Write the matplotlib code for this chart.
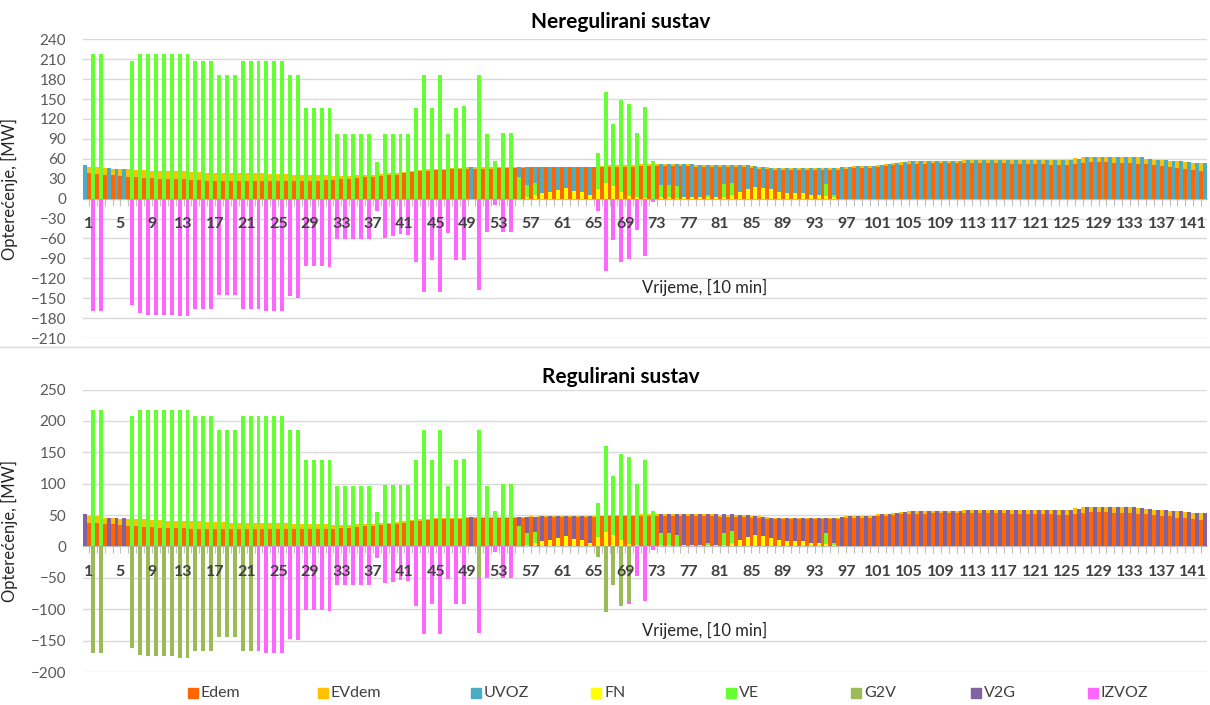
import matplotlib
matplotlib.use("Agg")
import matplotlib.pyplot as plt
import numpy as np
from matplotlib.patches import Rectangle
from matplotlib.lines import Line2D

plt.rcParams['font.family'] = ['Lato', 'DejaVu Sans']

# potrosnja po intervalu t = 1..142
edem = [38, 37, 36, 35, 34, 33, 32, 31, 31, 30,
        30, 29, 29, 28, 28, 27, 27, 27, 27, 27,
        27, 27, 27, 27, 27, 27, 27, 27, 27, 27,
        28, 28, 29, 30, 31, 32, 33, 34, 35, 36,
        38, 40, 41, 42, 43, 43, 44, 44, 45, 45,
        45, 45, 46, 46, 46, 46, 47, 47, 47, 47,
        47, 47, 47, 47, 47, 48, 48, 48, 48, 48,
        49, 49, 49, 49, 49, 49, 49, 48, 48, 48,
        47, 47, 47, 47, 46, 45, 44, 43, 43, 43,
        43, 43, 43, 43, 43, 43, 45, 46, 46, 46,
        48, 49, 50, 51, 52, 52, 52, 53, 53, 53,
        53, 53, 53, 53, 53, 53, 53, 52, 52, 52,
        52, 52, 51, 50, 50, 52, 54, 55, 55, 55,
        54, 53, 53, 52, 52, 50, 49, 48, 46, 45,
        43, 42]
evdem = [10, 11, 10, 10, 10, 11, 11, 12, 11, 12,
         11, 12, 12, 12, 12, 12, 12, 12, 11, 11,
         11, 11, 11, 10, 10, 10, 9, 9, 8, 8,
         7, 6, 5, 4, 4, 4, 3, 3, 3, 3,
         2, 2, 2, 2, 2, 2, 2, 2, 2, 2,
         2, 2, 1, 1, 1, 1, 1, 1, 1, 1,
         1, 1, 1, 1, 1, 1, 2, 2, 2, 2,
         3, 3, 3, 3, 3, 3, 3, 3, 3, 3,
         3, 3, 3, 3, 3, 3, 3, 3, 3, 3,
         3, 3, 3, 3, 3, 3, 3, 3, 3, 3,
         3, 3, 3, 4, 4, 4, 4, 4, 4, 4,
         4, 5, 5, 5, 5, 5, 5, 6, 6, 6,
         6, 6, 7, 8, 8, 9, 9, 8, 8, 8,
         9, 10, 10, 10, 8, 8, 9, 9, 10, 10,
         11, 12]

# proizvodnja / razmjena, s = 0..142 (stupci izmedu stupaca potrosnje)
fn = [0, 0, 0, 0, 0, 0, 0, 0, 0, 0,
      0, 0, 0, 0, 0, 0, 0, 0, 0, 0,
      0, 0, 0, 0, 0, 0, 0, 0, 0, 0,
      0, 0, 0, 0, 0, 0, 0, 0, 0, 0,
      0, 0, 0, 0, 0, 0, 0, 0, 0, 0,
      0, 0, 0, 0, 0, 0, 2, 5, 8, 10,
      13, 16, 12, 10, 6, 15, 23, 19, 10, 4,
      2, 1, 0, 2, 2, 1, 2, 2, 3, 2,
      3, 3, 6, 10, 15, 18, 16, 14, 10, 8,
      8, 8, 6, 5, 4, 2, 0, 0, 0, 0,
      0, 0, 0, 0, 0, 0, 0, 0, 0, 0,
      0, 0, 0, 0, 0, 0, 0, 0, 0, 0,
      0, 0, 0, 0, 0, 0, 0, 0, 0, 0,
      0, 0, 0, 0, 0, 0, 0, 0, 0, 0,
      0, 0, 0]
ve = [0, 218, 218, 0, 0, 0, 208, 218, 218, 218,
      218, 218, 218, 218, 208, 208, 208, 186, 186, 186,
      208, 208, 208, 208, 208, 208, 186, 186, 137, 137,
      137, 137, 97, 97, 97, 97, 97, 55, 98, 98,
      98, 98, 137, 186, 137, 186, 97, 137, 140, 0,
      186, 97, 57, 99, 99, 33, 19, 18, 0, 0,
      0, 0, 0, 0, 0, 54, 137, 94, 138, 138,
      97, 137, 56, 19, 19, 18, 0, 0, 0, 3,
      0, 19, 18, 0, 0, 0, 0, 0, 0, 0,
      0, 0, 0, 0, 18, 3, 0, 0, 0, 0,
      0, 0, 0, 0, 0, 0, 0, 0, 0, 0,
      0, 0, 0, 0, 0, 0, 0, 0, 0, 0,
      0, 0, 0, 0, 0, 0, 0, 0, 0, 0,
      0, 0, 0, 0, 0, 0, 0, 0, 0, 0,
      0, 0, 0]
uvoz = [51, 0, 0, 46, 45, 45, 0, 0, 0, 0,
        0, 0, 0, 0, 0, 0, 0, 0, 0, 0,
        0, 0, 0, 0, 0, 0, 0, 0, 0, 0,
        0, 0, 0, 0, 0, 0, 0, 0, 0, 0,
        0, 0, 0, 0, 0, 0, 0, 0, 0, 47,
        0, 0, 0, 0, 0, 14, 26, 24, 40, 38,
        35, 32, 36, 38, 42, 0, 0, 0, 0, 0,
        0, 0, 0, 31, 31, 33, 50, 50, 48, 46,
        48, 29, 27, 40, 35, 31, 31, 32, 36, 38,
        38, 38, 40, 41, 24, 41, 47, 48, 49, 49,
        49, 51, 52, 54, 55, 56, 56, 56, 57, 57,
        57, 57, 58, 58, 58, 58, 58, 58, 58, 58,
        58, 58, 58, 58, 58, 58, 60, 63, 63, 63,
        63, 63, 63, 63, 62, 60, 58, 58, 57, 56,
        55, 54, 54]
izvoz_nereg = [0, -169, -169, 0, 0, 0, -161, -173, -175, -175,
               -175, -175, -177, -177, -167, -167, -167, -145, -145, -145,
               -167, -167, -167, -169, -169, -169, -147, -149, -101, -101,
               -101, -103, -61, -61, -61, -61, -61, -19, -59, -56,
               -54, -55, -95, -140, -92, -140, -52, -92, -92, 0,
               -138, -51, -9, -51, -51, 0, 0, 0, 0, 0,
               0, 0, 0, 0, 0, -19, -109, -63, -96, -91,
               -47, -87, -5, 0, 0, 0, 0, 0, 0, 0,
               0, 0, 0, 0, 0, 0, 0, 0, 0, 0,
               0, 0, 0, 0, 0, 0, 0, 0, 0, 0,
               0, 0, 0, 0, 0, 0, 0, 0, 0, 0,
               0, 0, 0, 0, 0, 0, 0, 0, 0, 0,
               0, 0, 0, 0, 0, 0, 0, 0, 0, 0,
               0, 0, 0, 0, 0, 0, 0, 0, 0, 0,
               0, 0, 0]

# regulirani sustav: V2G umjesto uvoza, G2V umjesto dijela izvoza
v2g = list(uvoz)
g2v = [0, -169, -169, 0, 0, 0, -161, -173, -175, -175,
       -175, -175, -177, -177, -167, -167, -167, -145, -145, -145,
       -167, -167, 0, 0, 0, 0, 0, 0, 0, 0,
       0, 0, 0, 0, 0, 0, 0, 0, 0, 0,
       0, 0, 0, 0, 0, 0, 0, 0, 0, 0,
       -48, 0, 0, 0, 0, 0, 0, 0, 0, 0,
       0, 0, 0, 0, 0, -17, -105, -61, -95, -87,
       0, 0, 0, 0, 0, 0, 0, 0, 0, 0,
       0, 0, 0, 0, 0, 0, 0, 0, 0, 0,
       0, 0, 0, 0, 0, 0, 0, 0, 0, 0,
       0, 0, 0, 0, 0, 0, 0, 0, 0, 0,
       0, 0, 0, 0, 0, 0, 0, 0, 0, 0,
       0, 0, 0, 0, 0, 0, 0, 0, 0, 0,
       0, 0, 0, 0, 0, 0, 0, 0, 0, 0,
       0, 0, 0]
izvoz_reg = [0, 0, 0, 0, 0, 0, 0, 0, 0, 0,
             0, 0, 0, 0, 0, 0, 0, 0, 0, 0,
             0, 0, -167, -169, -169, -169, -147, -149, -101, -101,
             -101, -103, -61, -61, -61, -61, -61, -19, -59, -56,
             -54, -55, -95, -140, -92, -140, -52, -92, -92, 0,
             -90, -51, -9, -51, -51, 0, 0, 0, 0, 0,
             0, 0, 0, 0, 0, 0, 0, 0, 0, -4,
             -47, -87, -5, 0, 0, 0, 0, 0, 0, 0,
             0, 0, 0, 0, 0, 0, 0, 0, 0, 0,
             0, 0, 0, 0, 0, 0, 0, 0, 0, 0,
             0, 0, 0, 0, 0, 0, 0, 0, 0, 0,
             0, 0, 0, 0, 0, 0, 0, 0, 0, 0,
             0, 0, 0, 0, 0, 0, 0, 0, 0, 0,
             0, 0, 0, 0, 0, 0, 0, 0, 0, 0,
             0, 0, 0]

legend_names = ['Edem', 'EVdem', 'UVOZ', 'FN', 'VE', 'G2V', 'V2G', 'IZVOZ']
colors = {'Edem': '#FF6600', 'EVdem': '#FFC000', 'UVOZ': '#4BACC6', 'FN': '#FFFF00',
          'VE': '#66FF33', 'G2V': '#9BBB59', 'V2G': '#8064A2', 'IZVOZ': '#FF66FF'}

W, H = 1210, 705
fig = plt.figure(figsize=(W / 100, H / 100), dpi=100)


def px_axes(x0, y0, x1, y1):
    return fig.add_axes([x0 / W, 1 - y1 / H, (x1 - x0) / W, (y1 - y0) / H])


def draw_panel(ax, imp, imp_name, g2v_vals, izvoz_vals, ylim, yticks, title, title_y):
    t = np.arange(1, len(edem) + 1)
    s = np.arange(len(ve)) + 0.5
    w = 0.5
    ed = np.array(edem, float)
    ax.bar(t, ed, w, color=colors['Edem'], lw=0, zorder=3)
    ax.bar(t, evdem, w, bottom=ed, color=colors['EVdem'], lw=0, zorder=3)
    f = np.array(fn, float)
    v = np.array(ve, float)
    ax.bar(s, f, w, color=colors['FN'], lw=0, zorder=3)
    ax.bar(s, v, w, bottom=f, color=colors['VE'], lw=0, zorder=3)
    ax.bar(s, imp, w, bottom=f + v, color=colors[imp_name], lw=0, zorder=3)
    g = np.array(g2v_vals, float)
    ax.bar(s, g, w, color=colors['G2V'], lw=0, zorder=3)
    ax.bar(s, izvoz_vals, w, bottom=g, color=colors['IZVOZ'], lw=0, zorder=3)

    ax.set_xlim(0.25, len(ve) - 0.25)
    ax.set_ylim(*ylim)
    ax.set_yticks(yticks)
    ax.yaxis.grid(True, color='#D9D9D9', lw=1)
    ax.set_axisbelow(True)
    ax.xaxis.set_zorder(4)
    for sp in ['top', 'right', 'left']:
        ax.spines[sp].set_visible(False)
    ax.spines['bottom'].set_position(('data', 0))
    ax.spines['bottom'].set_color('#BFBFBF')
    ax.spines['bottom'].set_zorder(2)
    ax.set_xticks(t)
    ax.set_xticklabels([str(k) if (k - 1) % 4 == 0 else '' for k in t])
    ax.tick_params(axis='x', length=5, color='#BFBFBF', pad=8, labelsize=11.5,
                   labelcolor='#404040')
    for lab in ax.get_xticklabels():
        lab.set_fontweight('bold')
    ax.tick_params(axis='y', length=0, pad=12, labelsize=11, labelcolor='#595959')
    ax.set_ylabel('Opterećenje, [MW]', fontsize=12, color='#262626')
    ax.yaxis.set_label_coords(-0.058, 0.5)
    ax.text(79, -134, 'Vrijeme, [10 min]', ha='center', va='center',
            fontsize=12, color='#262626', zorder=5)
    fig.text(621 / W, 1 - title_y / H, title, ha='center', va='center',
             fontsize=15, fontweight='bold', color='black')


ax1 = px_axes(83, 39.3, 1207, 338)
draw_panel(ax1, np.array(uvoz, float), 'UVOZ', [0] * len(ve), izvoz_nereg,
           (-210, 240), np.arange(-210, 241, 30), 'Neregulirani sustav', 22)

ax2 = px_axes(83, 389.5, 1207, 672)
draw_panel(ax2, np.array(v2g, float), 'V2G', g2v, izvoz_reg,
           (-200, 250), np.arange(-200, 251, 50), 'Regulirani sustav', 377)

# razdjelna linija izmedu dva grafa
fig.add_artist(Line2D([0, 1], [1 - 347 / H] * 2, color='#D9D9D9', lw=1))

# legenda
leg_x = [188, 318, 471, 591, 726, 851, 971, 1088]
for name, x in zip(legend_names, leg_x):
    fig.add_artist(Rectangle((x / W, 1 - 698 / H), 10 / W, 10 / H,
                             color=colors[name], transform=fig.transFigure))
    fig.text((x + 13) / W, 1 - 693 / H, name, ha='left', va='center',
             fontsize=11.5, color='#404040')

fig.savefig('out.png', dpi=100)
